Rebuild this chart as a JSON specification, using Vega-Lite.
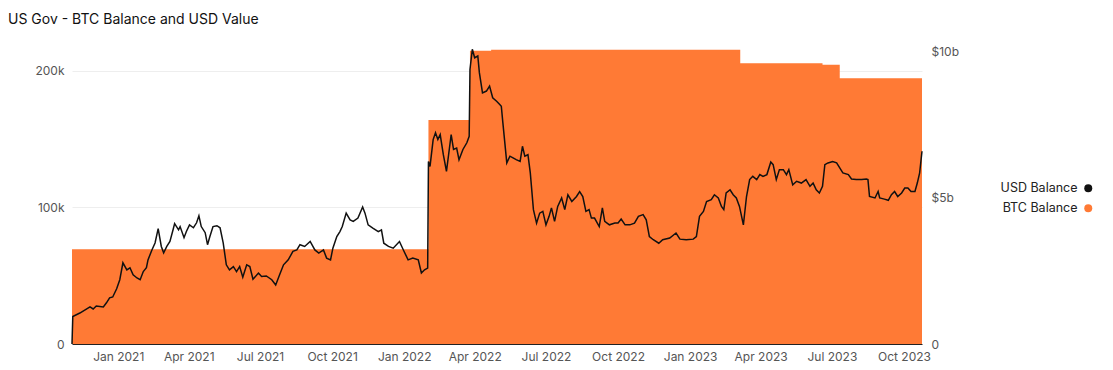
{
  "$schema": "https://vega.github.io/schema/vega-lite/v6.json",
  "width": 850,
  "height": 295,
  "autosize": "none",
  "padding": {"left": 72, "top": 49, "right": 191, "bottom": 26},
  "title": {"text": "US Gov - BTC Balance and USD Value", "anchor": "start", "frame": "group", "dx": -64, "offset": 8, "baseline": "alphabetic", "fontSize": 14, "fontWeight": "normal", "font": "Inter", "color": "#111"},
  "datasets": {
    "btc": [
      {"date": "2020-11-03", "btc": 69370},
      {"date": "2022-02-01", "btc": 164013},
      {"date": "2022-03-26", "btc": 214689},
      {"date": "2022-04-22", "btc": 215400},
      {"date": "2023-03-06", "btc": 205500},
      {"date": "2023-06-19", "btc": 204400},
      {"date": "2023-07-11", "btc": 194600},
      {"date": "2023-10-24", "btc": 194600}
    ],
    "usd": [
      {"date": "2020-11-03", "usd": 0},
      {"date": "2020-11-04", "usd": 0.94},
      {"date": "2020-11-13", "usd": 1.06},
      {"date": "2020-11-26", "usd": 1.27},
      {"date": "2020-11-30", "usd": 1.2},
      {"date": "2020-12-04", "usd": 1.3},
      {"date": "2020-12-13", "usd": 1.27},
      {"date": "2020-12-17", "usd": 1.41},
      {"date": "2020-12-21", "usd": 1.58},
      {"date": "2020-12-25", "usd": 1.61},
      {"date": "2020-12-30", "usd": 1.89},
      {"date": "2021-01-03", "usd": 2.2},
      {"date": "2021-01-07", "usd": 2.78},
      {"date": "2021-01-12", "usd": 2.54},
      {"date": "2021-01-16", "usd": 2.61},
      {"date": "2021-01-20", "usd": 2.37},
      {"date": "2021-01-25", "usd": 2.26},
      {"date": "2021-01-29", "usd": 2.2},
      {"date": "2021-02-02", "usd": 2.48},
      {"date": "2021-02-06", "usd": 2.61},
      {"date": "2021-02-08", "usd": 2.88},
      {"date": "2021-02-13", "usd": 3.22},
      {"date": "2021-02-17", "usd": 3.46},
      {"date": "2021-02-21", "usd": 3.95},
      {"date": "2021-02-25", "usd": 3.34},
      {"date": "2021-02-28", "usd": 3.12},
      {"date": "2021-03-04", "usd": 3.34},
      {"date": "2021-03-08", "usd": 3.51},
      {"date": "2021-03-12", "usd": 3.91},
      {"date": "2021-03-14", "usd": 4.12},
      {"date": "2021-03-19", "usd": 3.91},
      {"date": "2021-03-21", "usd": 4.02},
      {"date": "2021-03-26", "usd": 3.64},
      {"date": "2021-03-29", "usd": 3.85},
      {"date": "2021-04-02", "usd": 4.08},
      {"date": "2021-04-07", "usd": 3.98},
      {"date": "2021-04-11", "usd": 4.15},
      {"date": "2021-04-14", "usd": 4.39},
      {"date": "2021-04-17", "usd": 4.02},
      {"date": "2021-04-22", "usd": 3.81},
      {"date": "2021-04-25", "usd": 3.4},
      {"date": "2021-04-28", "usd": 3.68},
      {"date": "2021-05-02", "usd": 4.02},
      {"date": "2021-05-07", "usd": 4.05},
      {"date": "2021-05-11", "usd": 3.98},
      {"date": "2021-05-15", "usd": 3.46},
      {"date": "2021-05-19", "usd": 2.71},
      {"date": "2021-05-23", "usd": 2.54},
      {"date": "2021-05-28", "usd": 2.65},
      {"date": "2021-06-01", "usd": 2.48},
      {"date": "2021-06-05", "usd": 2.65},
      {"date": "2021-06-09", "usd": 2.29},
      {"date": "2021-06-14", "usd": 2.71},
      {"date": "2021-06-18", "usd": 2.65},
      {"date": "2021-06-22", "usd": 2.22},
      {"date": "2021-06-29", "usd": 2.43},
      {"date": "2021-07-03", "usd": 2.31},
      {"date": "2021-07-09", "usd": 2.33},
      {"date": "2021-07-16", "usd": 2.2},
      {"date": "2021-07-21", "usd": 2.02},
      {"date": "2021-07-26", "usd": 2.37},
      {"date": "2021-07-31", "usd": 2.71},
      {"date": "2021-08-06", "usd": 2.88},
      {"date": "2021-08-12", "usd": 3.17},
      {"date": "2021-08-17", "usd": 3.22},
      {"date": "2021-08-21", "usd": 3.4},
      {"date": "2021-08-27", "usd": 3.34},
      {"date": "2021-09-03", "usd": 3.51},
      {"date": "2021-09-09", "usd": 3.22},
      {"date": "2021-09-14", "usd": 3.11},
      {"date": "2021-09-20", "usd": 3.22},
      {"date": "2021-09-24", "usd": 2.94},
      {"date": "2021-09-29", "usd": 2.88},
      {"date": "2021-10-02", "usd": 3.28},
      {"date": "2021-10-07", "usd": 3.68},
      {"date": "2021-10-11", "usd": 3.85},
      {"date": "2021-10-14", "usd": 4.02},
      {"date": "2021-10-19", "usd": 4.48},
      {"date": "2021-10-24", "usd": 4.25},
      {"date": "2021-10-28", "usd": 4.2},
      {"date": "2021-11-03", "usd": 4.31},
      {"date": "2021-11-09", "usd": 4.69},
      {"date": "2021-11-12", "usd": 4.48},
      {"date": "2021-11-16", "usd": 4.08},
      {"date": "2021-11-22", "usd": 3.97},
      {"date": "2021-11-29", "usd": 3.85},
      {"date": "2021-12-03", "usd": 3.91},
      {"date": "2021-12-06", "usd": 3.45},
      {"date": "2021-12-12", "usd": 3.34},
      {"date": "2021-12-18", "usd": 3.28},
      {"date": "2021-12-26", "usd": 3.51},
      {"date": "2021-12-31", "usd": 3.22},
      {"date": "2022-01-06", "usd": 2.88},
      {"date": "2022-01-12", "usd": 2.94},
      {"date": "2022-01-19", "usd": 2.88},
      {"date": "2022-01-23", "usd": 2.43},
      {"date": "2022-01-27", "usd": 2.54},
      {"date": "2022-01-31", "usd": 2.6},
      {"date": "2022-02-01", "usd": 6.25},
      {"date": "2022-02-03", "usd": 6.08},
      {"date": "2022-02-07", "usd": 7.0},
      {"date": "2022-02-10", "usd": 7.23},
      {"date": "2022-02-13", "usd": 7.0},
      {"date": "2022-02-16", "usd": 7.17},
      {"date": "2022-02-20", "usd": 6.48},
      {"date": "2022-02-24", "usd": 5.91},
      {"date": "2022-02-27", "usd": 6.54},
      {"date": "2022-03-02", "usd": 7.17},
      {"date": "2022-03-05", "usd": 6.66},
      {"date": "2022-03-09", "usd": 6.71},
      {"date": "2022-03-12", "usd": 6.31},
      {"date": "2022-03-17", "usd": 6.66},
      {"date": "2022-03-22", "usd": 6.89},
      {"date": "2022-03-25", "usd": 7.11},
      {"date": "2022-03-26", "usd": 9.4},
      {"date": "2022-03-29", "usd": 10.09},
      {"date": "2022-04-01", "usd": 9.8},
      {"date": "2022-04-05", "usd": 9.86},
      {"date": "2022-04-07", "usd": 9.29},
      {"date": "2022-04-11", "usd": 8.6},
      {"date": "2022-04-16", "usd": 8.66},
      {"date": "2022-04-20", "usd": 8.83},
      {"date": "2022-04-24", "usd": 8.43},
      {"date": "2022-04-29", "usd": 8.31},
      {"date": "2022-05-03", "usd": 8.2},
      {"date": "2022-05-05", "usd": 8.14},
      {"date": "2022-05-07", "usd": 7.57},
      {"date": "2022-05-12", "usd": 6.2},
      {"date": "2022-05-16", "usd": 6.43},
      {"date": "2022-05-20", "usd": 6.37},
      {"date": "2022-05-24", "usd": 6.31},
      {"date": "2022-05-29", "usd": 6.25},
      {"date": "2022-06-01", "usd": 6.77},
      {"date": "2022-06-04", "usd": 6.43},
      {"date": "2022-06-08", "usd": 6.48},
      {"date": "2022-06-11", "usd": 5.86},
      {"date": "2022-06-15", "usd": 4.6},
      {"date": "2022-06-19", "usd": 4.14},
      {"date": "2022-06-23", "usd": 4.48},
      {"date": "2022-06-27", "usd": 4.54},
      {"date": "2022-07-01", "usd": 4.08},
      {"date": "2022-07-05", "usd": 4.37},
      {"date": "2022-07-08", "usd": 4.66},
      {"date": "2022-07-12", "usd": 4.2},
      {"date": "2022-07-16", "usd": 4.71},
      {"date": "2022-07-21", "usd": 5.0},
      {"date": "2022-07-25", "usd": 4.6},
      {"date": "2022-07-29", "usd": 5.11},
      {"date": "2022-08-03", "usd": 4.88},
      {"date": "2022-08-09", "usd": 5.05},
      {"date": "2022-08-13", "usd": 5.22},
      {"date": "2022-08-17", "usd": 5.05},
      {"date": "2022-08-21", "usd": 4.54},
      {"date": "2022-08-25", "usd": 4.6},
      {"date": "2022-08-28", "usd": 4.31},
      {"date": "2022-09-01", "usd": 4.31},
      {"date": "2022-09-07", "usd": 4.02},
      {"date": "2022-09-11", "usd": 4.66},
      {"date": "2022-09-14", "usd": 4.2},
      {"date": "2022-09-20", "usd": 4.08},
      {"date": "2022-09-27", "usd": 4.14},
      {"date": "2022-10-01", "usd": 4.14},
      {"date": "2022-10-05", "usd": 4.28},
      {"date": "2022-10-10", "usd": 4.08},
      {"date": "2022-10-16", "usd": 4.08},
      {"date": "2022-10-22", "usd": 4.14},
      {"date": "2022-10-27", "usd": 4.37},
      {"date": "2022-11-02", "usd": 4.43},
      {"date": "2022-11-06", "usd": 4.25},
      {"date": "2022-11-10", "usd": 3.68},
      {"date": "2022-11-15", "usd": 3.57},
      {"date": "2022-11-22", "usd": 3.45},
      {"date": "2022-11-27", "usd": 3.57},
      {"date": "2022-12-06", "usd": 3.63},
      {"date": "2022-12-14", "usd": 3.8},
      {"date": "2022-12-19", "usd": 3.59},
      {"date": "2022-12-27", "usd": 3.57},
      {"date": "2023-01-05", "usd": 3.59},
      {"date": "2023-01-09", "usd": 3.68},
      {"date": "2023-01-13", "usd": 4.37},
      {"date": "2023-01-18", "usd": 4.54},
      {"date": "2023-01-22", "usd": 4.88},
      {"date": "2023-01-28", "usd": 4.94},
      {"date": "2023-02-01", "usd": 5.11},
      {"date": "2023-02-06", "usd": 5.0},
      {"date": "2023-02-10", "usd": 4.71},
      {"date": "2023-02-13", "usd": 4.6},
      {"date": "2023-02-16", "usd": 5.17},
      {"date": "2023-02-21", "usd": 5.28},
      {"date": "2023-02-25", "usd": 5.11},
      {"date": "2023-03-01", "usd": 5.0},
      {"date": "2023-03-05", "usd": 4.71},
      {"date": "2023-03-10", "usd": 4.08},
      {"date": "2023-03-14", "usd": 5.05},
      {"date": "2023-03-18", "usd": 5.63},
      {"date": "2023-03-22", "usd": 5.74},
      {"date": "2023-03-27", "usd": 5.63},
      {"date": "2023-03-31", "usd": 5.8},
      {"date": "2023-04-04", "usd": 5.74},
      {"date": "2023-04-09", "usd": 5.8},
      {"date": "2023-04-14", "usd": 6.23},
      {"date": "2023-04-17", "usd": 6.14},
      {"date": "2023-04-21", "usd": 5.63},
      {"date": "2023-04-25", "usd": 5.97},
      {"date": "2023-04-30", "usd": 5.97},
      {"date": "2023-05-04", "usd": 5.8},
      {"date": "2023-05-07", "usd": 5.97},
      {"date": "2023-05-12", "usd": 5.45},
      {"date": "2023-05-17", "usd": 5.57},
      {"date": "2023-05-23", "usd": 5.51},
      {"date": "2023-05-29", "usd": 5.63},
      {"date": "2023-06-03", "usd": 5.4},
      {"date": "2023-06-07", "usd": 5.51},
      {"date": "2023-06-11", "usd": 5.28},
      {"date": "2023-06-15", "usd": 5.17},
      {"date": "2023-06-19", "usd": 5.4},
      {"date": "2023-06-22", "usd": 6.14},
      {"date": "2023-06-26", "usd": 6.2},
      {"date": "2023-07-02", "usd": 6.25},
      {"date": "2023-07-07", "usd": 6.2},
      {"date": "2023-07-11", "usd": 6.03},
      {"date": "2023-07-15", "usd": 5.86},
      {"date": "2023-07-22", "usd": 5.8},
      {"date": "2023-07-26", "usd": 5.65},
      {"date": "2023-08-01", "usd": 5.63},
      {"date": "2023-08-08", "usd": 5.63},
      {"date": "2023-08-14", "usd": 5.65},
      {"date": "2023-08-16", "usd": 5.63},
      {"date": "2023-08-18", "usd": 5.05},
      {"date": "2023-08-25", "usd": 5.0},
      {"date": "2023-08-29", "usd": 5.22},
      {"date": "2023-08-31", "usd": 5.0},
      {"date": "2023-09-06", "usd": 4.96},
      {"date": "2023-09-11", "usd": 4.92},
      {"date": "2023-09-15", "usd": 5.11},
      {"date": "2023-09-19", "usd": 5.22},
      {"date": "2023-09-23", "usd": 5.05},
      {"date": "2023-09-28", "usd": 5.17},
      {"date": "2023-10-02", "usd": 5.34},
      {"date": "2023-10-06", "usd": 5.34},
      {"date": "2023-10-10", "usd": 5.22},
      {"date": "2023-10-15", "usd": 5.22},
      {"date": "2023-10-18", "usd": 5.51},
      {"date": "2023-10-21", "usd": 5.86},
      {"date": "2023-10-24", "usd": 6.6}
    ]
  },
  "encoding": {
    "x": {
      "field": "date", "type": "temporal",
      "scale": {"domain": [{"year": 2020, "month": 11, "date": 3}, {"year": 2023, "month": 10, "date": 24}]},
      "axis": {"title": null, "format": "%b %Y", "tickCount": {"interval": "month", "step": 3}, "ticks": false, "grid": false, "labelPadding": 7, "domainColor": "#222", "labelColor": "#555", "labelFontSize": 12, "labelFont": "Inter", "labelFlush": false}
    },
    "color": {
      "scale": {"domain": ["USD Balance", "BTC Balance"], "range": ["#111111", "#ff7a35"]},
      "legend": {
        "title": null, "orient": "none", "legendX": 1010, "legendY": 133,
        "symbolType": "circle", "symbolSize": 64, "symbolStrokeWidth": 0,
        "labelAlign": "right", "labelOffset": -17,
        "labelFontSize": 12.5, "labelFont": "Inter", "labelColor": "#222", "rowPadding": 7,
        "encode": {"symbols": {"update": {"fill": {"scale": "color", "field": "value"}, "stroke": {"value": "transparent"}, "opacity": {"value": 1}}}}
      }
    }
  },
  "layer": [
    {
      "data": {"name": "btc"},
      "mark": {"type": "area", "interpolate": "step-after", "opacity": 1},
      "encoding": {
        "y": {
          "field": "btc", "type": "quantitative",
          "scale": {"domain": [0, 216000], "nice": false},
          "axis": {"orient": "left", "title": null, "values": [0, 100000, 200000], "labelExpr": "datum.value == 0 ? '0' : format(datum.value / 1000, 'd') + 'k'", "ticks": false, "domain": false, "labelPadding": 8, "gridColor": "#eeeeee", "labelColor": "#555", "labelFontSize": 12, "labelFont": "Inter"}
        },
        "color": {"datum": "BTC Balance"}
      }
    },
    {
      "data": {"name": "usd"},
      "mark": {"type": "line", "strokeWidth": 1.5, "interpolate": "linear"},
      "encoding": {
        "y": {
          "field": "usd", "type": "quantitative",
          "scale": {"domain": [0, 10.1], "nice": false},
          "axis": {"orient": "right", "title": null, "values": [0, 5, 10], "labelExpr": "datum.value == 0 ? '0' : '$' + datum.value + 'b'", "ticks": false, "domain": false, "grid": false, "labelPadding": 9, "labelColor": "#555", "labelFontSize": 12, "labelFont": "Inter"}
        },
        "color": {"datum": "USD Balance"}
      }
    }
  ],
  "resolve": {"scale": {"y": "independent"}},
  "config": {"view": {"stroke": null}, "background": "white"}
}
